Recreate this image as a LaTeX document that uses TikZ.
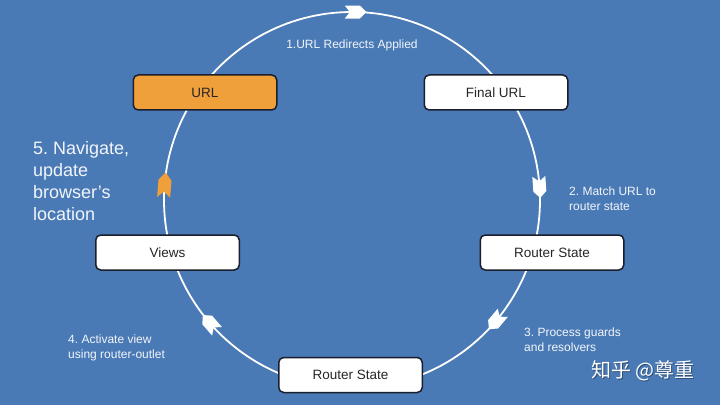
\documentclass[tikz,border=0pt]{standalone}
\usepackage{fontspec}
\setmainfont{Liberation Sans}
\newfontfamily\cjkfont{Noto Sans CJK SC}
\usetikzlibrary{calc}
\definecolor{bgblue}{HTML}{4A7AB5}
\definecolor{boxorange}{HTML}{F0A03A}
\definecolor{boxline}{HTML}{1B1E2B}
\definecolor{captext}{HTML}{F2F5FA}
\frenchspacing

\tikzset{
  stagebox/.style={draw=boxline, line width=1.5pt, rounded corners=5pt, fill=white,
    minimum width=143.5pt, minimum height=35pt, inner sep=0pt,
    font=\fontsize{13.5}{16}\selectfont, text=black!85},
  ring/.style={draw=white, line width=1.8pt},
  caption/.style={text=captext, font=\fontsize{12}{15}\selectfont, align=left, inner sep=0pt},
  % notched arrow marker pointing along +x; #1 colour, #2 length factor
  pics/chevron/.style 2 args={code={
    \fill[#1] (-10.5*#2,6.5) -- (4.5*#2,6.5) -- (11*#2,0) -- (4.5*#2,-6.5)
      -- (-10.5*#2,-6.5) -- (-5.5*#2,0) -- cycle;}}
}

\begin{document}
\begin{tikzpicture}[x=1pt,y=1pt]
\fill[bgblue] (0,0) rectangle (720,405);
\useasboundingbox (0,0) rectangle (720,405);

% the routing cycle
\coordinate (C) at (352,205);
\draw[ring] (C) circle[radius=188];

% direction markers on the ring (clockwise)
\pic[rotate=0]     at ($(C)+(89:188)$)    {chevron={white}{1}};
\pic[rotate=-86]   at ($(C)+(4:188)$)     {chevron={white}{1}};
\pic[rotate=-130]  at ($(C)+(-40:188)$)   {chevron={white}{1}};
\pic[rotate=131]   at ($(C)+(221:188)$)   {chevron={white}{1}};
\pic[rotate=85.5]  at ($(C)+(175.5:188)$) {chevron={boxorange}{1.15}};

% stages
\node[stagebox, fill=boxorange] (url)   at (205,312.5) {URL};
\node[stagebox]                 (final) at (496,312.5) {Final URL};
\node[stagebox]                 (rsa)   at (552,152.5) {Router State};
\node[stagebox]                 (rsb)   at (350.5,30)  {Router State};
\node[stagebox]                 (views) at (167.5,152.5) {Views};

% step captions
\node[caption, anchor=base] (s1) at (352,356.7) {1.URL Redirects Applied};
\node[caption, anchor=west] (s2) at (569,206) {2. Match URL to\\router state};
\node[caption, anchor=west] (s3) at (524,65) {3. Process guards\\and resolvers};
\node[caption, anchor=west] (s4) at (68,57.6) {4. Activate view\\using router-outlet};
\node[caption, anchor=west, font=\fontsize{18}{22}\selectfont] (s5) at (33,224)
  {5. Navigate,\\update\\browser’s\\location};

% signature
\node[text=black, opacity=0.35, font=\cjkfont\fontsize{20}{20}\selectfont] (wmshadow) at (644,33) {知乎 @尊重};
\node[text=white, font=\cjkfont\fontsize{20}{20}\selectfont] (wm) at (643,34) {知乎 @尊重};
\end{tikzpicture}
\end{document}
